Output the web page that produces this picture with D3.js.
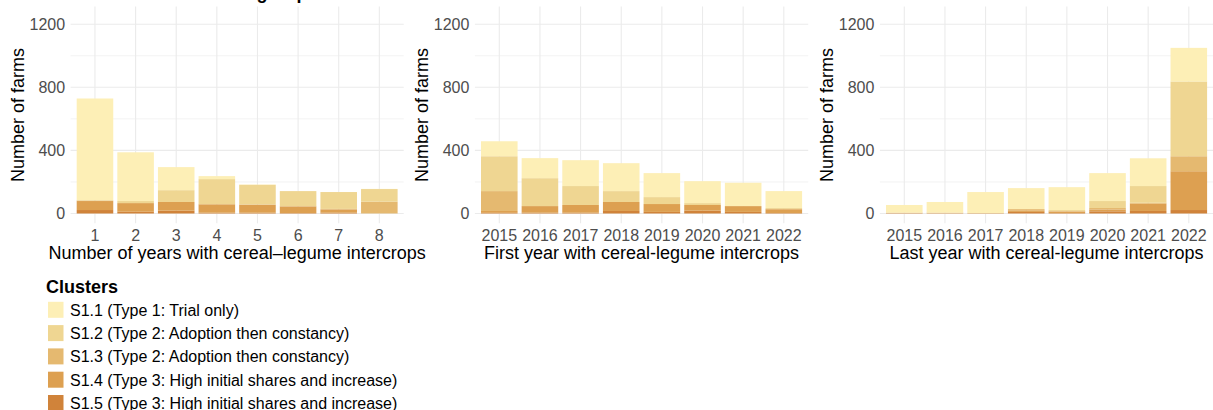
<!DOCTYPE html>
<html>
<head>
<meta charset="utf-8">
<script src="https://cdn.jsdelivr.net/npm/d3@7"></script>
<style>
  html, body { margin: 0; padding: 0; background: #fff; }
  svg { display: block; font-family: "Liberation Sans", Arial, sans-serif; }
</style>
</head>
<body>
<svg id="chart" width="1213" height="410"></svg>
<script>
// ---------- DATA ----------
const clusters = ["S1.1", "S1.2", "S1.3", "S1.4", "S1.5"];
const clusterLabels = [
  "S1.1 (Type 1: Trial only)",
  "S1.2 (Type 2: Adoption then constancy)",
  "S1.3 (Type 2: Adoption then constancy)",
  "S1.4 (Type 3: High initial shares and increase)",
  "S1.5 (Type 3: High initial shares and increase)"
];
const clusterColors = ["#FDEFB6", "#EFD692", "#E5B970", "#DDA051", "#D0833A"];

const yearCountCategories = ["1", "2", "3", "4", "5", "6", "7", "8"];
const yearCategories = ["2015", "2016", "2017", "2018", "2019", "2020", "2021", "2022"];
const yTicks = [0, 400, 800, 1200];
const yMinorTicks = [200, 600, 1000];

// Panel 1: number of years with cereal-legume intercrops
const nYears_S1_1 = [644, 309, 146, 19, 2, 0, 0, 1];
const nYears_S1_2 = [3, 13, 75, 158, 124, 95, 107, 80];
const nYears_S1_3 = [3, 0, 0, 2, 2, 2, 3, 74];
const nYears_S1_4 = [57, 55, 55, 53, 51, 42, 21, 1];
const nYears_S1_5 = [22, 11, 18, 5, 5, 3, 5, 0];

// Panel 2: first year with cereal-legume intercrops
const firstYear_S1_1 = [95, 127, 164, 177, 152, 139, 148, 107];
const firstYear_S1_2 = [221, 177, 120, 69, 44, 12, 0, 6];
const firstYear_S1_3 = [126, 0, 0, 0, 0, 0, 0, 2];
const firstYear_S1_4 = [12, 42, 49, 57, 50, 36, 37, 24];
const firstYear_S1_5 = [4, 5, 5, 16, 10, 18, 10, 3];

// Panel 3: last year with cereal-legume intercrops
const lastYear_S1_1 = [49, 68, 133, 133, 145, 177, 176, 213];
const lastYear_S1_2 = [0, 0, 0, 0, 6, 44, 106, 474];
const lastYear_S1_3 = [0, 0, 0, 8, 4, 9, 6, 95];
const lastYear_S1_4 = [3, 4, 3, 10, 9, 12, 46, 246];
const lastYear_S1_5 = [2, 1, 0, 10, 3, 14, 16, 22];

const panels = [
  { cats: yearCountCategories, series: [nYears_S1_1, nYears_S1_2, nYears_S1_3, nYears_S1_4, nYears_S1_5],
    xTitle: "Number of years with cereal\u2013legume intercrops", left: 70.6, right: 403.7 },
  { cats: yearCategories, series: [firstYear_S1_1, firstYear_S1_2, firstYear_S1_3, firstYear_S1_4, firstYear_S1_5],
    xTitle: "First year with cereal-legume intercrops", left: 474.9, right: 808.2 },
  { cats: yearCategories, series: [lastYear_S1_1, lastYear_S1_2, lastYear_S1_3, lastYear_S1_4, lastYear_S1_5],
    xTitle: "Last year with cereal-legume intercrops", left: 879.9, right: 1213.2 }
];

// ---------- DRAW ----------
const svg = d3.select("#chart");
const y = d3.scaleLinear().domain([0, 1200]).range([213.5, 24.2]);
const panelTop = y(1312.5), panelBottom = y(-62.5);
const gridColor = "#EBEBEB";

// clipped title at very top
svg.append("text")
  .attr("x", 189.6).attr("y", -0.6)
  .attr("font-size", 18).attr("font-weight", "bold").attr("fill", "#000")
  .text("Cluster groups");

panels.forEach(p => {
  const g = svg.append("g");
  const x = d3.scaleBand().domain(p.cats).range([p.left, p.right])
    .paddingInner(0.1).paddingOuter(0.15);

  // minor gridlines
  g.selectAll("line.minor").data(yMinorTicks).join("line")
    .attr("x1", p.left).attr("x2", p.right)
    .attr("y1", d => y(d)).attr("y2", d => y(d))
    .attr("stroke", gridColor).attr("stroke-width", 0.6);
  // major horizontal gridlines
  g.selectAll("line.major").data(yTicks).join("line")
    .attr("x1", p.left).attr("x2", p.right)
    .attr("y1", d => y(d)).attr("y2", d => y(d))
    .attr("stroke", gridColor).attr("stroke-width", 1.1);
  // vertical gridlines
  g.selectAll("line.vx").data(p.cats).join("line")
    .attr("x1", d => x(d) + x.bandwidth() / 2).attr("x2", d => x(d) + x.bandwidth() / 2)
    .attr("y1", panelTop).attr("y2", panelBottom)
    .attr("stroke", gridColor).attr("stroke-width", 1.1);

  // stacked data: S1.5 at the bottom, S1.1 on top
  const rows = p.cats.map((c, i) => {
    const r = { cat: c };
    clusters.forEach((k, j) => r[k] = p.series[j][i]);
    return r;
  });
  const stack = d3.stack().keys(clusters.slice().reverse())(rows);
  stack.forEach(layer => {
    const color = clusterColors[clusters.indexOf(layer.key)];
    g.selectAll(null).data(layer).join("rect")
      .attr("x", d => x(d.data.cat))
      .attr("width", x.bandwidth())
      .attr("y", d => y(d[1]))
      .attr("height", d => Math.max(0, y(d[0]) - y(d[1])))
      .attr("fill", color);
  });

  // y axis
  const ya = g.append("g").attr("transform", `translate(${p.left},0)`)
    .call(d3.axisLeft(y).tickValues(yTicks).tickSize(0).tickPadding(5.5).tickFormat(d3.format("d")));
  ya.select(".domain").remove();
  ya.selectAll("text").attr("font-size", 16).attr("fill", "#4D4D4D")
    .attr("font-family", "'Liberation Sans', Arial, sans-serif");

  // x axis
  const xa = g.append("g").attr("transform", `translate(0,${panelBottom})`)
    .call(d3.axisBottom(x).tickSize(0).tickPadding(5.9));
  xa.select(".domain").remove();
  xa.selectAll("text").attr("font-size", 16).attr("fill", "#4D4D4D")
    .attr("font-family", "'Liberation Sans', Arial, sans-serif");

  // axis titles
  g.append("text")
    .attr("x", (p.left + p.right) / 2).attr("y", 259)
    .attr("text-anchor", "middle").attr("font-size", 18).attr("fill", "#000")
    .text(p.xTitle);
  g.append("text")
    .attr("transform", `translate(${p.left - 46.8},${(panelTop + panelBottom) / 2}) rotate(-90)`)
    .attr("text-anchor", "middle").attr("font-size", 18).attr("fill", "#000")
    .text("Number of farms");
});

// legend
const lg = svg.append("g");
lg.append("text").attr("x", 46).attr("y", 292.5)
  .attr("font-size", 18).attr("font-weight", "bold").attr("fill", "#000")
  .text("Clusters");
clusters.forEach((k, i) => {
  const cy = 309.8 + i * 23.3;
  lg.append("rect").attr("x", 48).attr("y", cy - 8).attr("width", 15.5).attr("height", 16)
    .attr("fill", clusterColors[i]);
  lg.append("text").attr("x", 70).attr("y", cy + 6)
    .attr("font-size", 16).attr("fill", "#000")
    .text(clusterLabels[i]);
});
</script>
</body>
</html>
